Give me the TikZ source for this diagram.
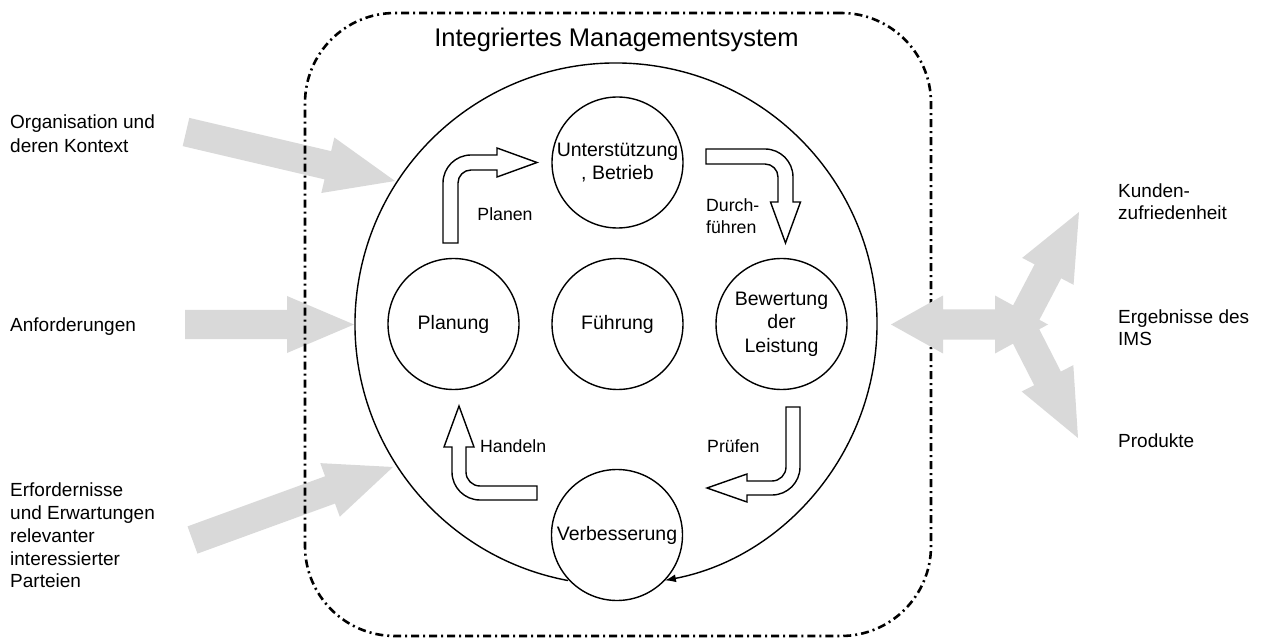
\documentclass[tikz,border=0pt]{standalone}
\usepackage{fontspec}
\setmainfont{Liberation Sans}
\usetikzlibrary{calc,arrows.meta}
\definecolor{arrowgrey}{HTML}{D9D9D9}

% grey block arrow: #1 tail, #2 tip, #3 head length, #4 shaft half width, #5 head half width
\newcommand{\greyarrow}[5]{%
  \coordinate (gaB) at ($(#2)!#3!(#1)$);
  \fill[arrowgrey] ($(#1)!#4!90:(#2)$) -- ($(gaB)!#4!90:(#2)$) -- ($(gaB)!#5!90:(#2)$) -- (#2)
     -- ($(gaB)!#5!-90:(#2)$) -- ($(gaB)!#4!-90:(#2)$) -- ($(#1)!#4!-90:(#2)$) -- cycle;
}

\begin{document}
\begin{tikzpicture}[x=1pt,y=-1pt,
  circ/.style={circle, draw, line width=1.4pt, minimum size=131pt, inner sep=0pt,
               font=\fontsize{19.5}{23.5}\selectfont, align=center},
  sidetext/.style={font=\fontsize{19}{23.5}\selectfont, align=left, inner sep=0pt},
  lbl/.style={font=\fontsize{17.7}{22}\selectfont, inner sep=0pt, align=left},
  hollow/.style={draw, line width=1.4pt, fill=white, line join=miter},
  frame/.style={draw, line width=2.6pt, dash pattern=on 8pt off 4pt on 2pt off 4pt,
                rounded corners=90pt, inner sep=0pt}
]
\useasboundingbox (0,0) rectangle (1262,639);

% left input arrows (below the frame)
\coordinate (t1) at (186,132);   \coordinate (h1) at (395,181);
\coordinate (t2) at (185,324.5); \coordinate (h2) at (354,324.5);
\coordinate (t3) at (192.5,540); \coordinate (h3) at (393,467);
\greyarrow{t1}{h1}{69pt}{14.5pt}{28.5pt}
\greyarrow{t2}{h2}{67pt}{14.5pt}{28.5pt}
\greyarrow{t3}{h3}{67pt}{14.5pt}{28.5pt}

% frame
\node[frame, minimum width=626pt, minimum height=623pt] (frm) at (618,324.5) {};
\node[font=\fontsize{25.5}{30}\selectfont, anchor=base, inner sep=0pt] (title) at (616.5,47) {Integriertes Managementsystem};

% right output arrows (above the frame)
\coordinate (mid) at (969,324.5);
\coordinate (outL) at (891,324.5);
\coordinate (outR) at (1048,324.5);
\coordinate (fork) at (1020,324.5);
\coordinate (upT) at (1079,212);
\coordinate (dnT) at (1078,438);
\greyarrow{mid}{outL}{52pt}{15pt}{29pt}
\greyarrow{mid}{outR}{53pt}{15pt}{29pt}
\greyarrow{fork}{upT}{67pt}{15pt}{29pt}
\greyarrow{fork}{dnT}{67pt}{15pt}{29pt}

% circles
\node[circ] (unt) at (617.5,162.5) {Unterstützung\\, Betrieb};
\node[circ] (plan) at (453.5,324) {Planung};
\node[circ] (fuehr) at (617.5,324) {Führung};
\node[circ] (bew) at (781.5,324) {Bewertung\\der\\Leistung};
\node[circ] (verb) at (617,535) {Verbesserung};

% big cycle arc
\coordinate (ims) at (616,324);
\draw[line width=1.4pt, -{Latex[length=11pt,width=8pt]}]
  ([shift={(100.6:261)}]ims) arc[start angle=100.6, end angle=439.2, radius=261];

% hollow bent arrows
\draw[hollow] (443,243) -- (443,183) arc[start angle=180, end angle=270, radius=28]
  -- (497,155) -- (497,148) -- (537,162.5) -- (497,177) -- (497,170) -- (471,170)
  arc[start angle=270, end angle=180, radius=13] -- (458,243) -- cycle;
\draw[hollow] (706,149) -- (765,149) arc[start angle=270, end angle=360, radius=28]
  -- (793,202) -- (800.5,202) -- (785.5,243) -- (770.5,202) -- (778,202) -- (778,177)
  arc[start angle=0, end angle=-90, radius=13] -- (706,164) -- cycle;
\draw[hollow] (786,407) -- (800,407) -- (800,467) arc[start angle=0, end angle=90, radius=28]
  -- (747,495) -- (747,502) -- (707,488) -- (747,474) -- (747,481) -- (772,481)
  arc[start angle=90, end angle=0, radius=14] -- cycle;
\draw[hollow] (537,486) -- (480,486) arc[start angle=90, end angle=180, radius=14]
  -- (466,447) -- (474,447) -- (459,406) -- (444,447) -- (452,447) -- (452,472)
  arc[start angle=180, end angle=90, radius=28] -- (537,500) -- cycle;

% arrow labels
\node[lbl, anchor=base] (lplan) at (505,221) {Planen};
\node[lbl, anchor=north west] (ldurch) at (706,198) {Durch-\\führen};
\node[lbl, anchor=base west] (lpruef) at (707,452) {Prüfen};
\node[lbl, anchor=base west] (lhand) at (480,452) {Handeln};

% side texts
\node[sidetext, anchor=north west] (org) at (10,115) {Organisation und\\deren Kontext};
\node[sidetext, anchor=base west] (anf) at (10,331) {Anforderungen};
\node[sidetext, anchor=north west, font=\fontsize{19}{22.75}\selectfont] (erf) at (10,483) {Erfordernisse\\und Erwartungen\\relevanter\\interessierter\\Parteien};
\node[sidetext, anchor=north west, font=\fontsize{19}{22}\selectfont] (kund) at (1118,184) {Kunden-\\zufriedenheit};
\node[sidetext, anchor=north west, font=\fontsize{19}{21.5}\selectfont] (erg) at (1118,310) {Ergebnisse des\\IMS};
\node[sidetext, anchor=base west] (prod) at (1118,447) {Produkte};
\end{tikzpicture}
\end{document}
